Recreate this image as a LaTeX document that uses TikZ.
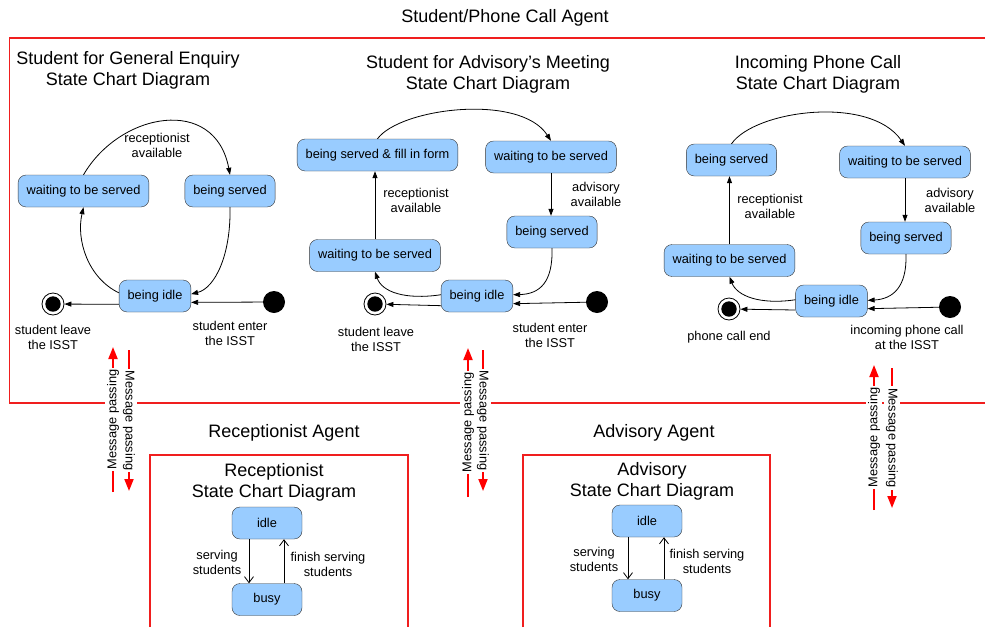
\documentclass[tikz,border=0pt]{standalone}
\usepackage{fontspec}
\setmainfont{Liberation Sans}
\usetikzlibrary{arrows.meta,calc}
\definecolor{stateblue}{RGB}{153,204,255}
\definecolor{framered}{RGB}{240,30,30}

\begin{document}
\begin{tikzpicture}[x=1pt,y=-1pt,
  state/.style={draw=black!80,fill=stateblue,rounded corners=8pt,inner xsep=8.5pt,inner ysep=0pt,minimum height=32pt,font=\fontsize{12.8}{15}\selectfont},
  agentstate/.style={state,minimum width=70pt},
  initial/.style={circle,fill=black,minimum size=22pt,inner sep=0pt},
  final/.style={circle,draw=black,line width=0.8pt,minimum size=22pt,inner sep=0pt,
    path picture={\fill[black] (path picture bounding box.center) circle (7.7pt);}},
  lbl/.style={align=center,inner sep=0pt,font=\fontsize{12.8}{15}\selectfont},
  ttl/.style={align=center,inner sep=0pt,font=\fontsize{18}{21}\selectfont},
  trans/.style={draw=black,line width=0.8pt,-{Triangle[length=7pt,width=5pt]}},
  opentrans/.style={draw=black,line width=0.8pt,-{Straight Barb[length=6pt,width=9pt]}},
  frame/.style={draw=framered,line width=1.5pt},
  msg/.style={draw=red,line width=1.8pt,-{Triangle[length=12pt,width=9pt]}},
  msglbl/.style={lbl,fill=white,inner sep=2pt}]
\useasboundingbox (0,0) rectangle (985,627);

\draw[frame] (985,38) -- (9.5,38) -- (9.5,403) -- (985,403);
\draw[frame] (150,627) -- (150,455) -- (408,455) -- (408,627);
\draw[frame] (523,627) -- (523,455) -- (770,455) -- (770,627);

\node[ttl] (tagent) at (505,18) {Student/Phone Call Agent};
\node[ttl] (tgeneral) at (128,70.5) {Student for General Enquiry\\State Chart Diagram};
\node[ttl] (tmeeting) at (488,74.5) {Student for Advisory{\char"0027}s Meeting\\State Chart Diagram};
\node[ttl] (tphone) at (818,74.5) {Incoming Phone Call\\State Chart Diagram};
\node[ttl] (treceptagent) at (284,433) {Receptionist Agent};
\node[ttl] (tadvagent) at (654,433) {Advisory Agent};
\node[ttl] (trecept) at (274,482) {Receptionist\\State Chart Diagram};
\node[ttl] (tadv) at (652,481) {Advisory\\State Chart Diagram};

% general enquiry
\node[state] (gwait) at (83.5,191) {waiting to be served};
\node[state] (gserved) at (230,191) {being served};
\node[state] (gidle) at (155,296) {being idle};
\node[final] (gend) at (53,304) {};
\node[initial] (gstart) at (274,302) {};
\draw[trans] (gwait.north) .. controls (120,112) and (215,95) .. (gserved.north);
\draw[trans] (gserved.south) .. controls (231,255) and (215,288) .. (gidle.3);
\draw[trans] (gidle.175) .. controls (88,278) and (76,240) .. (gwait.south);
\draw[trans] (gstart) -- (gidle.-10);
\draw[trans] (gidle.193) -- (gend);
\node[lbl] (grecept) at (157,145) {receptionist\\available};
\node[lbl] (gleave) at (53,337) {student leave\\the ISST};
\node[lbl] (genter) at (230,333) {student enter\\the ISST};

% advisory's meeting
\node[state] (mform) at (377.5,155) {being served \& fill in form};
\node[state] (mwaitadv) at (551,157) {waiting to be served};
\node[state] (mserved) at (552,232) {being served};
\node[state] (mwait) at (375,255.5) {waiting to be served};
\node[state] (midle) at (477,296) {being idle};
\node[final] (mend) at (375,304) {};
\node[initial] (mstart) at (597,302) {};
\draw[trans] (mform.north) .. controls (400,108) and (520,93) .. (mwaitadv.north);
\draw[trans] (mwaitadv.south) -- (mwaitadv.south |- mserved.north);
\draw[trans] (mserved.south) .. controls (553,282) and (540,294) .. (midle.2);
\draw[trans] (midle.178) .. controls (405,300) and (382,292) .. (mwait.south);
\draw[trans] (mwait.north) -- (mwait.north |- mform.south);
\draw[trans] (mstart) -- (midle.-12);
\draw[trans] (midle.195) -- (mend);
\node[lbl] (mrecept) at (416,200) {receptionist\\available};
\node[lbl] (madvisory) at (596,194) {advisory\\available};
\node[lbl] (mleave) at (376,339) {student leave\\the ISST};
\node[lbl] (menter) at (550,335) {student enter\\the ISST};

% incoming phone call
\node[state] (pserved) at (731.5,160) {being served};
\node[state] (pwaitadv) at (905,162) {waiting to be served};
\node[state] (pservedadv) at (906,238) {being served};
\node[state] (pwait) at (729.5,260.5) {waiting to be served};
\node[state] (pidle) at (831.5,301) {being idle};
\node[final] (pend) at (729,309) {};
\node[initial] (pstart) at (950,307) {};
\draw[trans] (pserved.north) .. controls (755,110) and (870,95) .. (pwaitadv.north);
\draw[trans] (pwaitadv.south) -- (pwaitadv.south |- pservedadv.north);
\draw[trans] (pservedadv.south) .. controls (907,287) and (893,299) .. (pidle.1);
\draw[trans] (pidle.178) .. controls (760,305) and (737,296) .. (pwait.south);
\draw[trans] (pwait.north) -- (pwait.north |- pserved.south);
\draw[trans] (pstart) -- (pidle.-12);
\draw[trans] (pidle.194) -- (pend);
\node[lbl] (precept) at (770,206) {receptionist\\available};
\node[lbl] (padvisory) at (950,200) {advisory\\available};
\node[lbl] (pcallend) at (729,337) {phone call end};
\node[lbl] (pincoming) at (907,337) {incoming phone call\\at the ISST};

% receptionist
\node[agentstate] (ridle) at (267,523) {idle};
\node[agentstate] (rbusy) at (267,599.5) {busy};
\draw[opentrans] ($(ridle.south)+(-18,0)$) -- ($(rbusy.north)+(-18,0)$);
\draw[opentrans] ($(rbusy.north)+(17,0)$) -- ($(ridle.south)+(17,0)$);
\node[lbl] (rserving) at (217,562) {serving\\students};
\node[lbl] (rfinish) at (328,564) {finish serving\\students};

% advisory
\node[agentstate] (aidle) at (647,521) {idle};
\node[agentstate] (abusy) at (647,595.5) {busy};
\draw[opentrans] ($(aidle.south)+(-19,0)$) -- ($(abusy.north)+(-19,0)$);
\draw[opentrans] ($(abusy.north)+(17,0)$) -- ($(aidle.south)+(17,0)$);
\node[lbl] (aserving) at (594,559) {serving\\students};
\node[lbl] (afinish) at (707,561) {finish serving\\students};

% message passing
\coordinate (up1a) at (113,492); \coordinate (up1b) at (113,347);
\coordinate (dn1a) at (129,350); \coordinate (dn1b) at (129,491);
\draw[msg] (up1a) -- node[msglbl,rotate=90] (msgup1) {Message passing} (up1b);
\draw[msg] (dn1a) -- node[msglbl,rotate=-90] (msgdn1) {Message passing} (dn1b);
\coordinate (up2a) at (468,497); \coordinate (up2b) at (468,348);
\coordinate (dn2a) at (483,350); \coordinate (dn2b) at (483,491);
\draw[msg] (up2a) -- node[msglbl,rotate=90] (msgup2) {Message passing} (up2b);
\draw[msg] (dn2a) -- node[msglbl,rotate=-90] (msgdn2) {Message passing} (dn2b);
\coordinate (up3a) at (874,510); \coordinate (up3b) at (874,365);
\coordinate (dn3a) at (892,368); \coordinate (dn3b) at (892,508);
\draw[msg] (up3a) -- node[msglbl,rotate=90] (msgup3) {Message passing} (up3b);
\draw[msg] (dn3a) -- node[msglbl,rotate=-90] (msgdn3) {Message passing} (dn3b);
\end{tikzpicture}
\end{document}
